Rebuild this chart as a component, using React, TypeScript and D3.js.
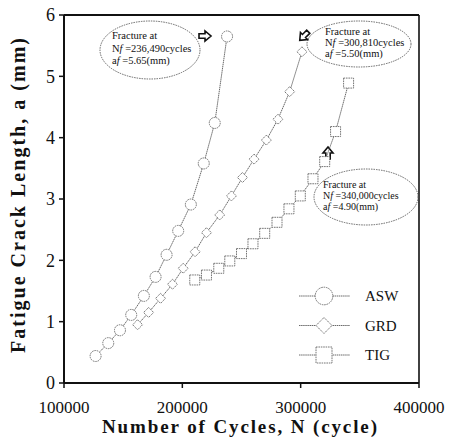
import React from 'react';
import * as d3 from 'd3';

// crack growth data (cycles, crack length in mm)
const aswCycles = [126700, 137400, 147300, 156800, 167500, 177400, 186700, 196500, 207200, 218100, 227400, 237800];
const aswLength = [0.44, 0.65, 0.86, 1.11, 1.42, 1.73, 2.09, 2.48, 2.91, 3.58, 4.24, 5.65];

const grdCycles = [162200, 171500, 181600, 191700, 200700, 210800, 220400, 231600, 241500, 250800, 260600, 271000, 280800, 290700, 301100];
const grdLength = [0.95, 1.15, 1.38, 1.61, 1.87, 2.14, 2.45, 2.74, 3.05, 3.35, 3.65, 3.96, 4.30, 4.75, 5.40];

const tigCycles = [210500, 220400, 230800, 240100, 250000, 259700, 269600, 280000, 290100, 299700, 310400, 320300, 329500, 340500];
const tigLength = [1.68, 1.76, 1.87, 1.99, 2.11, 2.27, 2.44, 2.62, 2.84, 3.05, 3.33, 3.61, 4.10, 4.89];

const xTicks = [100000, 200000, 300000, 400000];
const yTicks = [0, 1, 2, 3, 4, 5, 6];
const seriesNames = ['ASW', 'GRD', 'TIG'];

const W = 453;
const H = 440;
const margin = { top: 15, right: 34, bottom: 57, left: 64 };

const ff = { fontFamily: "'Liberation Serif'" };
const markerStroke = '#666';
const lineStroke = '#444';

const x = d3.scaleLinear().domain([100000, 400000]).range([margin.left, W - margin.right]);
const y = d3.scaleLinear().domain([0, 6]).range([H - margin.bottom, margin.top]);

const toPoints = (xs: number[], ys: number[]) => xs.map((v, i) => [v, ys[i]] as [number, number]);
const series = [
  { name: 'ASW', pts: toPoints(aswCycles, aswLength) },
  { name: 'GRD', pts: toPoints(grdCycles, grdLength) },
  { name: 'TIG', pts: toPoints(tigCycles, tigLength) },
];

const line = d3.line<[number, number]>().x(d => x(d[0])).y(d => y(d[1]));

function Marker({ kind, cx, cy, k = 1 }: { kind: string; cx: number; cy: number; k?: number }) {
  const common = { fill: 'white', stroke: markerStroke, strokeWidth: 0.9, strokeDasharray: '1.6,0.8' };
  if (kind === 'ASW') return <circle cx={cx} cy={cy} r={5.5 * k} {...common} />;
  if (kind === 'GRD') {
    const s = 5 * k;
    return <path d={`M${cx},${cy - s}L${cx + s},${cy}L${cx},${cy + s}L${cx - s},${cy}Z`} {...common} />;
  }
  const h = 5 * k;
  return <rect x={cx - h} y={cy - h} width={2 * h} height={2 * h} {...common} />;
}

// hollow block arrow pointing right, rotated as needed
function Arrow({ cx, cy, angle }: { cx: number; cy: number; angle: number }) {
  return (
    <path
      d="M-6,-2.2L0,-2.2L0,-5L6,0L0,5L0,2.2L-6,2.2Z"
      transform={`translate(${cx},${cy}) rotate(${angle})`}
      fill="white"
      stroke="#111"
      strokeWidth={1.6}
      strokeLinejoin="miter"
    />
  );
}

function Note({ cx, cy, rx, ry, tx, ty, n, a, lh, fs = 10.5 }: any) {
  return (
    <g fontSize={fs} fill="#111">
      <ellipse cx={cx} cy={cy} rx={rx} ry={ry} fill="none" stroke="#555" strokeWidth={0.9} strokeDasharray="1.5,1" />
      <text x={tx} y={ty} style={ff}>Fracture at</text>
      <text x={tx} y={ty + lh} style={ff}>
        N<tspan fontStyle="italic">f</tspan> ={n}cycles
      </text>
      <text x={tx} y={ty + 2 * lh} style={ff}>
        a<tspan fontStyle="italic">f</tspan> ={a}(mm)
      </text>
    </g>
  );
}

export default function App() {
  const x0 = margin.left;
  const x1 = W - margin.right;
  const y0 = H - margin.bottom;
  const y1 = margin.top;

  return (
    <svg width={W} height={H} style={{ position: 'absolute', left: 0, top: 0, background: 'white' }}>
      {/* frame */}
      <line x1={x0} x2={x1} y1={y1} y2={y1} stroke="#111" strokeWidth={2} />
      <line x1={x1} x2={x1} y1={y1} y2={y0} stroke="#111" strokeWidth={1.6} />
      <line x1={x0} x2={x1} y1={y0} y2={y0} stroke="#111" strokeWidth={2} />
      <line x1={x0} x2={x0} y1={y1} y2={y0} stroke="#111" strokeWidth={2} />

      {/* y ticks */}
      {yTicks.map(t => (
        <g key={'y' + t}>
          <line x1={x0 - 5} x2={x0} y1={y(t)} y2={y(t)} stroke="#111" strokeWidth={1.5} />
          <text x={x0 - 9} y={y(t)} dy="0.35em" textAnchor="end" fontSize={18} fill="#111" style={ff}>
            {t}
          </text>
        </g>
      ))}

      {/* x ticks */}
      {xTicks.map(t => (
        <g key={'x' + t}>
          <line x1={x(t)} x2={x(t)} y1={y0} y2={y0 + 5} stroke="#111" strokeWidth={1.5} />
          <text x={x(t)} y={y0 + 30} textAnchor="middle" fontSize={17} fill="#111" style={ff}>
            {t}
          </text>
        </g>
      ))}

      {/* axis titles */}
      <text x={102} y={H - 7} fontWeight="bold" fontSize={19} textLength={275} lengthAdjust="spacing" fill="#111" style={ff}>
        Number of Cycles, N (cycle)
      </text>
      <text
        transform={`translate(25,353) rotate(-90)`}
        fontWeight="bold"
        fontSize={20}
        textLength={315}
        lengthAdjust="spacing"
        fill="#111"
        style={ff}
      >
        Fatigue Crack Length, a (mm)
      </text>

      {/* annotations (ellipses sit under the data) */}
      <Note cx={150} cy={50} rx={50} ry={29} tx={112} ty={39} lh={12.5} n="236,490" a="5.65" />
      <Arrow cx={205} cy={36} angle={0} />
      <Note cx={359} cy={44} rx={52} ry={23} tx={325} ty={35} lh={11} n="300,810" a="5.50" />
      <Arrow cx={304} cy={36} angle={135} />
      <Note cx={366} cy={197} rx={52} ry={28} tx={323} ty={188} lh={10.8} fs={10} n="340,000" a="4.90" />
      <Arrow cx={328} cy={153} angle={-90} />

      {/* series */}
      {series.map(s => (
        <g key={s.name}>
          <path d={line(s.pts) || ''} fill="none" stroke={lineStroke} strokeWidth={0.8} strokeDasharray="1.5,0.6" />
          {s.pts.map((p, i) => (
            <Marker key={i} kind={s.name} cx={x(p[0])} cy={y(p[1])} />
          ))}
        </g>
      ))}

      {/* legend */}
      {seriesNames.map((name, i) => {
        const ly = 296 + i * 29.5;
        return (
          <g key={name}>
            <line x1={299} x2={350} y1={ly} y2={ly} stroke={lineStroke} strokeWidth={0.8} strokeDasharray="1.5,0.6" />
            <Marker kind={name} cx={324} cy={ly} k={1.6} />
            <text x={365} y={ly} dy="0.35em" fontSize={15} fill="#111" style={ff}>
              {name}
            </text>
          </g>
        );
      })}
    </svg>
  );
}
